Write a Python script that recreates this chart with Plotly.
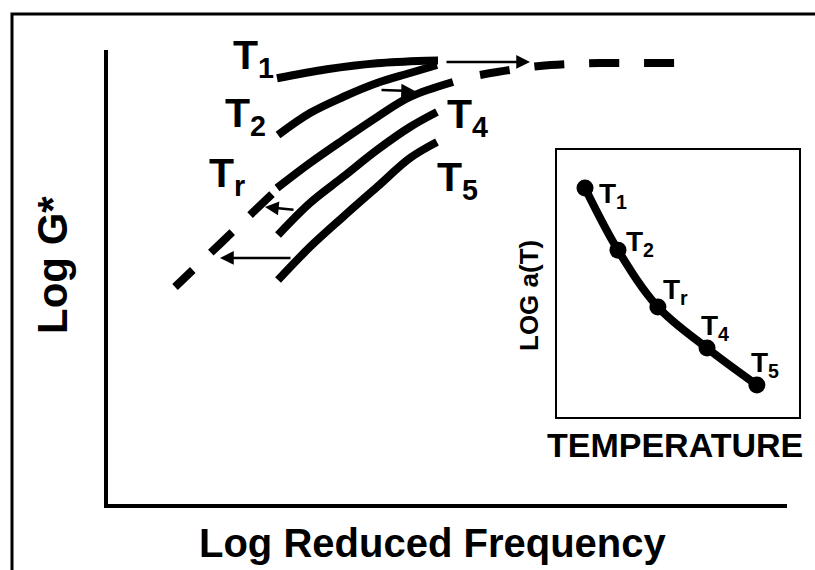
import plotly.graph_objects as go

W, H = 815, 570

# ---- data (schematic, log units 0-10) ----
t1_x = [2.489, 3.225, 3.962, 4.698, 4.860]
t1_y = [9.377, 9.575, 9.707, 9.764, 9.769]
t2_x = [2.504, 2.975, 3.461, 3.962, 4.448, 4.845]
t2_y = [8.128, 8.612, 8.965, 9.273, 9.493, 9.670]
tr_x = [2.489, 2.975, 3.461, 3.962, 4.448, 5.081]
tr_y = [6.960, 7.511, 8.018, 8.524, 8.965, 9.295]
t4_x = [2.504, 2.975, 3.461, 3.962, 4.448, 4.845]
t4_y = [5.925, 6.630, 7.203, 7.797, 8.304, 8.634]
t5_x = [2.504, 2.975, 3.461, 3.962, 4.448, 4.845]
t5_y = [4.934, 5.661, 6.322, 6.982, 7.621, 7.974]

master_lo_x = [2.415, 1.679, 0.987]
master_lo_y = [6.828, 5.771, 4.780]
master_hi_x = [5.479, 5.920, 6.362, 6.804, 7.246, 7.835, 8.395]
master_hi_y = [9.449, 9.559, 9.648, 9.692, 9.714, 9.714, 9.714]

# shift arrows: tail -> head
arrow_tail_x = [4.963, 4.006, 2.754, 2.710]
arrow_tail_y = [9.736, 9.119, 6.476, 5.419]
arrow_head_x = [6.215, 4.521, 2.312, 1.649]
arrow_head_y = [9.736, 9.097, 6.542, 5.419]

# inset: shift factor vs temperature
inset_x = [1.157, 2.52, 4.17, 6.2, 8.26]
inset_y = [8.577, 6.25, 4.12, 2.58, 1.2]
inset_labels = ["T<sub>1</sub>", "T<sub>2</sub>", "T<sub>r</sub>", "T<sub>4</sub>", "T<sub>5</sub>"]

main_labels = ["T<sub>1</sub>", "T<sub>2</sub>", "T<sub>r</sub>", "T<sub>4</sub>", "T<sub>5</sub>"]
# label anchor positions in pixels (left, middle)
main_label_px = [(231, 58), (223, 116), (207, 176), (445, 117), (435, 180)]
inset_label_px = [(597, 196), (624, 243), (661, 291), (699, 327), (749, 364)]

FONT = "Liberation Sans, Arial, sans-serif"


def px(x, y):
    return x / W, 1 - y / H


fig = go.Figure()
line = dict(color="black", width=8, shape="spline")
for xs, ys in [(t1_x, t1_y), (t2_x, t2_y), (tr_x, tr_y), (t4_x, t4_y), (t5_x, t5_y)]:
    fig.add_trace(go.Scatter(x=xs, y=ys, mode="lines", line=line, xaxis="x", yaxis="y",
                             showlegend=False, hoverinfo="skip"))
for xs, ys in [(master_lo_x, master_lo_y), (master_hi_x, master_hi_y)]:
    fig.add_trace(go.Scatter(x=xs, y=ys, mode="lines",
                             line=dict(color="black", width=8, dash="30px,25px", shape="spline"),
                             xaxis="x", yaxis="y", showlegend=False, hoverinfo="skip"))

fig.add_trace(go.Scatter(x=inset_x, y=inset_y, mode="lines+markers",
                         line=dict(color="black", width=8, shape="spline"),
                         marker=dict(color="black", size=17),
                         xaxis="x2", yaxis="y2", showlegend=False, hoverinfo="skip"))

annotations = []
for tx, ty, hx, hy in zip(arrow_tail_x, arrow_tail_y, arrow_head_x, arrow_head_y):
    annotations.append(dict(x=hx, y=hy, ax=tx, ay=ty, xref="x", yref="y", axref="x", ayref="y",
                            text="", showarrow=True, arrowhead=2, arrowsize=1.1, arrowwidth=2.5,
                            arrowcolor="black"))
for lab, (lx, ly) in zip(main_labels, main_label_px):
    x, y = px(lx, ly)
    annotations.append(dict(x=x, y=y, xref="paper", yref="paper", text="<b>" + lab + "</b>",
                            showarrow=False, xanchor="left", yanchor="middle",
                            font=dict(family=FONT, size=41, color="black")))
for lab, (lx, ly) in zip(inset_labels, inset_label_px):
    x, y = px(lx, ly)
    annotations.append(dict(x=x, y=y, xref="paper", yref="paper", text="<b>" + lab + "</b>",
                            showarrow=False, xanchor="left", yanchor="middle",
                            font=dict(family=FONT, size=28, color="black")))

x, y = px(432, 543)
annotations.append(dict(x=x, y=y, xref="paper", yref="paper", text="<b>Log Reduced Frequency</b>",
                        showarrow=False, xanchor="center", yanchor="middle",
                        font=dict(family=FONT, size=40, color="black")))
x, y = px(52, 265)
annotations.append(dict(x=x, y=y, xref="paper", yref="paper", text="<b>Log G*</b>", textangle=-90,
                        showarrow=False, xanchor="center", yanchor="middle",
                        font=dict(family=FONT, size=42, color="black")))
x, y = px(675, 445)
annotations.append(dict(x=x, y=y, xref="paper", yref="paper", text="<b>TEMPERATURE</b>",
                        showarrow=False, xanchor="center", yanchor="middle",
                        font=dict(family=FONT, size=34, color="black")))
x, y = px(529, 296)
annotations.append(dict(x=x, y=y, xref="paper", yref="paper", text="<b>LOG a(T)</b>", textangle=-90,
                        showarrow=False, xanchor="center", yanchor="middle",
                        font=dict(family=FONT, size=26, color="black")))

shapes = [dict(type="path", xref="paper", yref="paper",
               path=f"M {12/W} 0 L {12/W} {1-14/H} L 1 {1-14/H}",
               line=dict(color="black", width=3))]

ax_common = dict(showgrid=False, zeroline=False, showticklabels=False, ticks="",
                 fixedrange=True)
fig.update_layout(
    width=W, height=H, margin=dict(l=0, r=0, t=0, b=0),
    paper_bgcolor="white", plot_bgcolor="rgba(0,0,0,0)",
    xaxis=dict(domain=[108 / W, 787 / W], range=[0, 10], showline=True, linewidth=4,
               linecolor="black", **ax_common),
    yaxis=dict(domain=[1 - 504 / H, 1 - 50 / H], range=[0, 10], showline=True, linewidth=4,
               linecolor="black", **ax_common),
    xaxis2=dict(domain=[557 / W, 799 / W], range=[0, 10], showline=True, linewidth=2,
                linecolor="black", mirror=True, anchor="y2", **ax_common),
    yaxis2=dict(domain=[1 - 417 / H, 1 - 150 / H], range=[0, 10], showline=True, linewidth=2,
                linecolor="black", mirror=True, anchor="x2", **ax_common),
    annotations=annotations, shapes=shapes, showlegend=False,
)
fig.write_html("out.html")
